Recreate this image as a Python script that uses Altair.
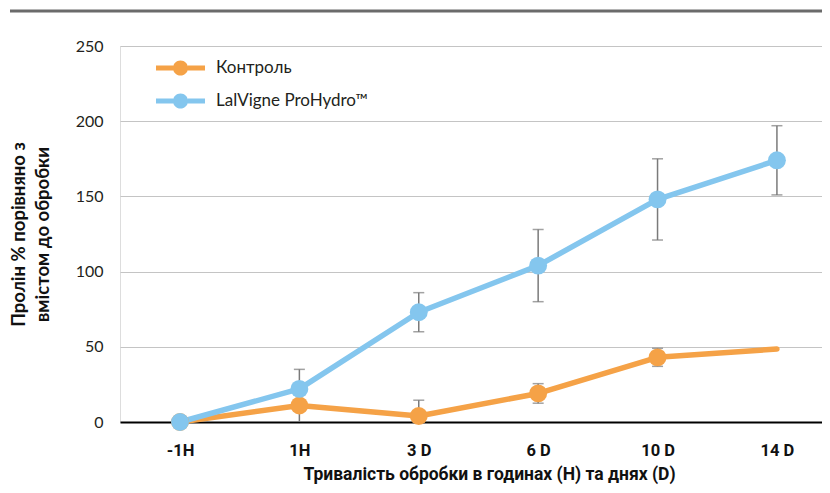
import altair as alt
import pandas as pd

categories = ["-1H", "1H", "3 D", "6 D", "10 D", "14 D"]
series_names = ["Контроль", "LalVigne ProHydro™"]
control = [0, 11, 4, 19, 43, 48.5]
control_err = [0, 11, 10.5, 6.5, 6, None]
control_marker = [True, True, True, True, True, False]
prohydro = [0, 22, 73, 104, 148, 174]
prohydro_err = [0, 13, 13, 24, 27, 23]
prohydro_marker = [True, True, True, True, True, True]
y_ticks = [0, 50, 100, 150, 200, 250]

ORANGE = "#F5A247"
BLUE = "#84C6EE"
ERR = "#7a7a7a"

rows = []
for name, vals, errs, marks in [
    (series_names[0], control, control_err, control_marker),
    (series_names[1], prohydro, prohydro_err, prohydro_marker),
]:
    for i, (c, v, e, m) in enumerate(zip(categories, vals, errs, marks)):
        lo = max(0, v - e) if e else None
        hi = v + e if e else None
        rows.append({"cat": c, "order": i, "series": name, "value": v,
                     "lo": lo, "hi": hi, "marker": m})
df = pd.DataFrame(rows)

W, H = 702, 376

xaxis = alt.Axis(title="Тривалість обробки в годинах (H) та днях (D)",
                 labelAngle=0, ticks=False, tickSize=0, domain=False,
                 grid=False, labelPadding=20,
                 labelFont="Roboto", labelFontWeight="bold",
                 labelFontSize=16.5, labelColor="#111111",
                 titleFont="Roboto", titleFontWeight="bold",
                 titleFontSize=17.5, titleColor="#111111",
                 titleAlign="center", titleX=369,
                 titleBaseline="alphabetic", titleY=57.5)
xscale = alt.Scale(type="point", padding=0.44, align=0.571)


def X():
    return alt.X("cat:N", sort=categories, scale=xscale, axis=xaxis)


yscale = alt.Scale(domain=[0, 250], nice=False)
yaxis = alt.Axis(values=y_ticks, title=["Пролін % порівняно з", "вмістом до обробки"],
                 domain=False, ticks=False, tickSize=0, labelPadding=17,
                 labelFont="Lato", labelFontSize=16, labelColor="#231f20",
                 gridColor=alt.condition("datum.value === 0", alt.value("#000000"), alt.value("#c4c4c4")),
                 gridWidth=alt.condition("datum.value === 0", alt.value(2), alt.value(1)),
                 titleFont="Lato", titleFontWeight="bold", titleFontSize=18.5,
                 titleColor="#111111", titleAngle=270, titleAlign="center",
                 titleBaseline="alphabetic", titleX=-96, titleY=188, titleLineHeight=24)


def Y(field):
    return alt.Y(field, scale=yscale, axis=yaxis)


color_scale = alt.Scale(domain=series_names, range=[ORANGE, BLUE])

sym_path = ("M-1,-0.1L-0.3,-0.1L-0.3,0.1L-1,0.1Z "
            "M0.3,-0.1L1,-0.1L1,0.1L0.3,0.1Z "
            "M-0.31,0A0.31,0.31 0 1,1 0.31,0A0.31,0.31 0 1,1 -0.31,0Z")

legend = alt.Legend(title=None, orient="none", legendX=36, legendY=9.5,
                    symbolType=sym_path, symbolSize=2401, symbolStrokeWidth=0,
                    symbolOpacity=1, clipHeight=25, rowPadding=8, labelOffset=11,
                    labelFont="Lato", labelFontSize=17, labelColor="#231f20",
                    padding=0)
color = alt.Color("series:N", scale=color_scale, legend=legend)

err_df = df[df["hi"].notna()]
errbars = alt.Chart(err_df).mark_rule(color=ERR, strokeWidth=1.5).encode(
    x=X(), y=Y("lo:Q"), y2="hi:Q")
caps_hi = alt.Chart(err_df).mark_tick(orient="horizontal", size=11, thickness=1.5, color=ERR).encode(
    x=X(), y=Y("hi:Q"))
caps_lo = alt.Chart(err_df[err_df["lo"] > 0]).mark_tick(orient="horizontal", size=11, thickness=1.5, color=ERR).encode(
    x=X(), y=Y("lo:Q"))

lines = alt.Chart(df).mark_line(strokeWidth=5.5, strokeCap="round", strokeJoin="round").encode(
    x=X(), y=Y("value:Q"), color=color, order="order:Q")

points = alt.Chart(df[df["marker"]]).mark_point(filled=True, size=320, opacity=1).encode(
    x=X(), y=Y("value:Q"), color=color)

top_rule = alt.Chart(pd.DataFrame({"a": [0]})).mark_rule(color="#6b6b6b", strokeWidth=3).encode(
    x=alt.value(-110), x2=alt.value(W + 10), y=alt.value(-35))

chart = alt.layer(errbars, caps_hi, caps_lo, lines, points, top_rule).properties(
    width=W, height=H,
    autosize=alt.AutoSizeParams(type="none"),
    padding={"left": 112, "top": 38, "right": 0, "bottom": 63},
).configure_view(stroke=None).configure(background="white")

chart.save("out.html", embed_options={"renderer": "svg", "actions": False})
